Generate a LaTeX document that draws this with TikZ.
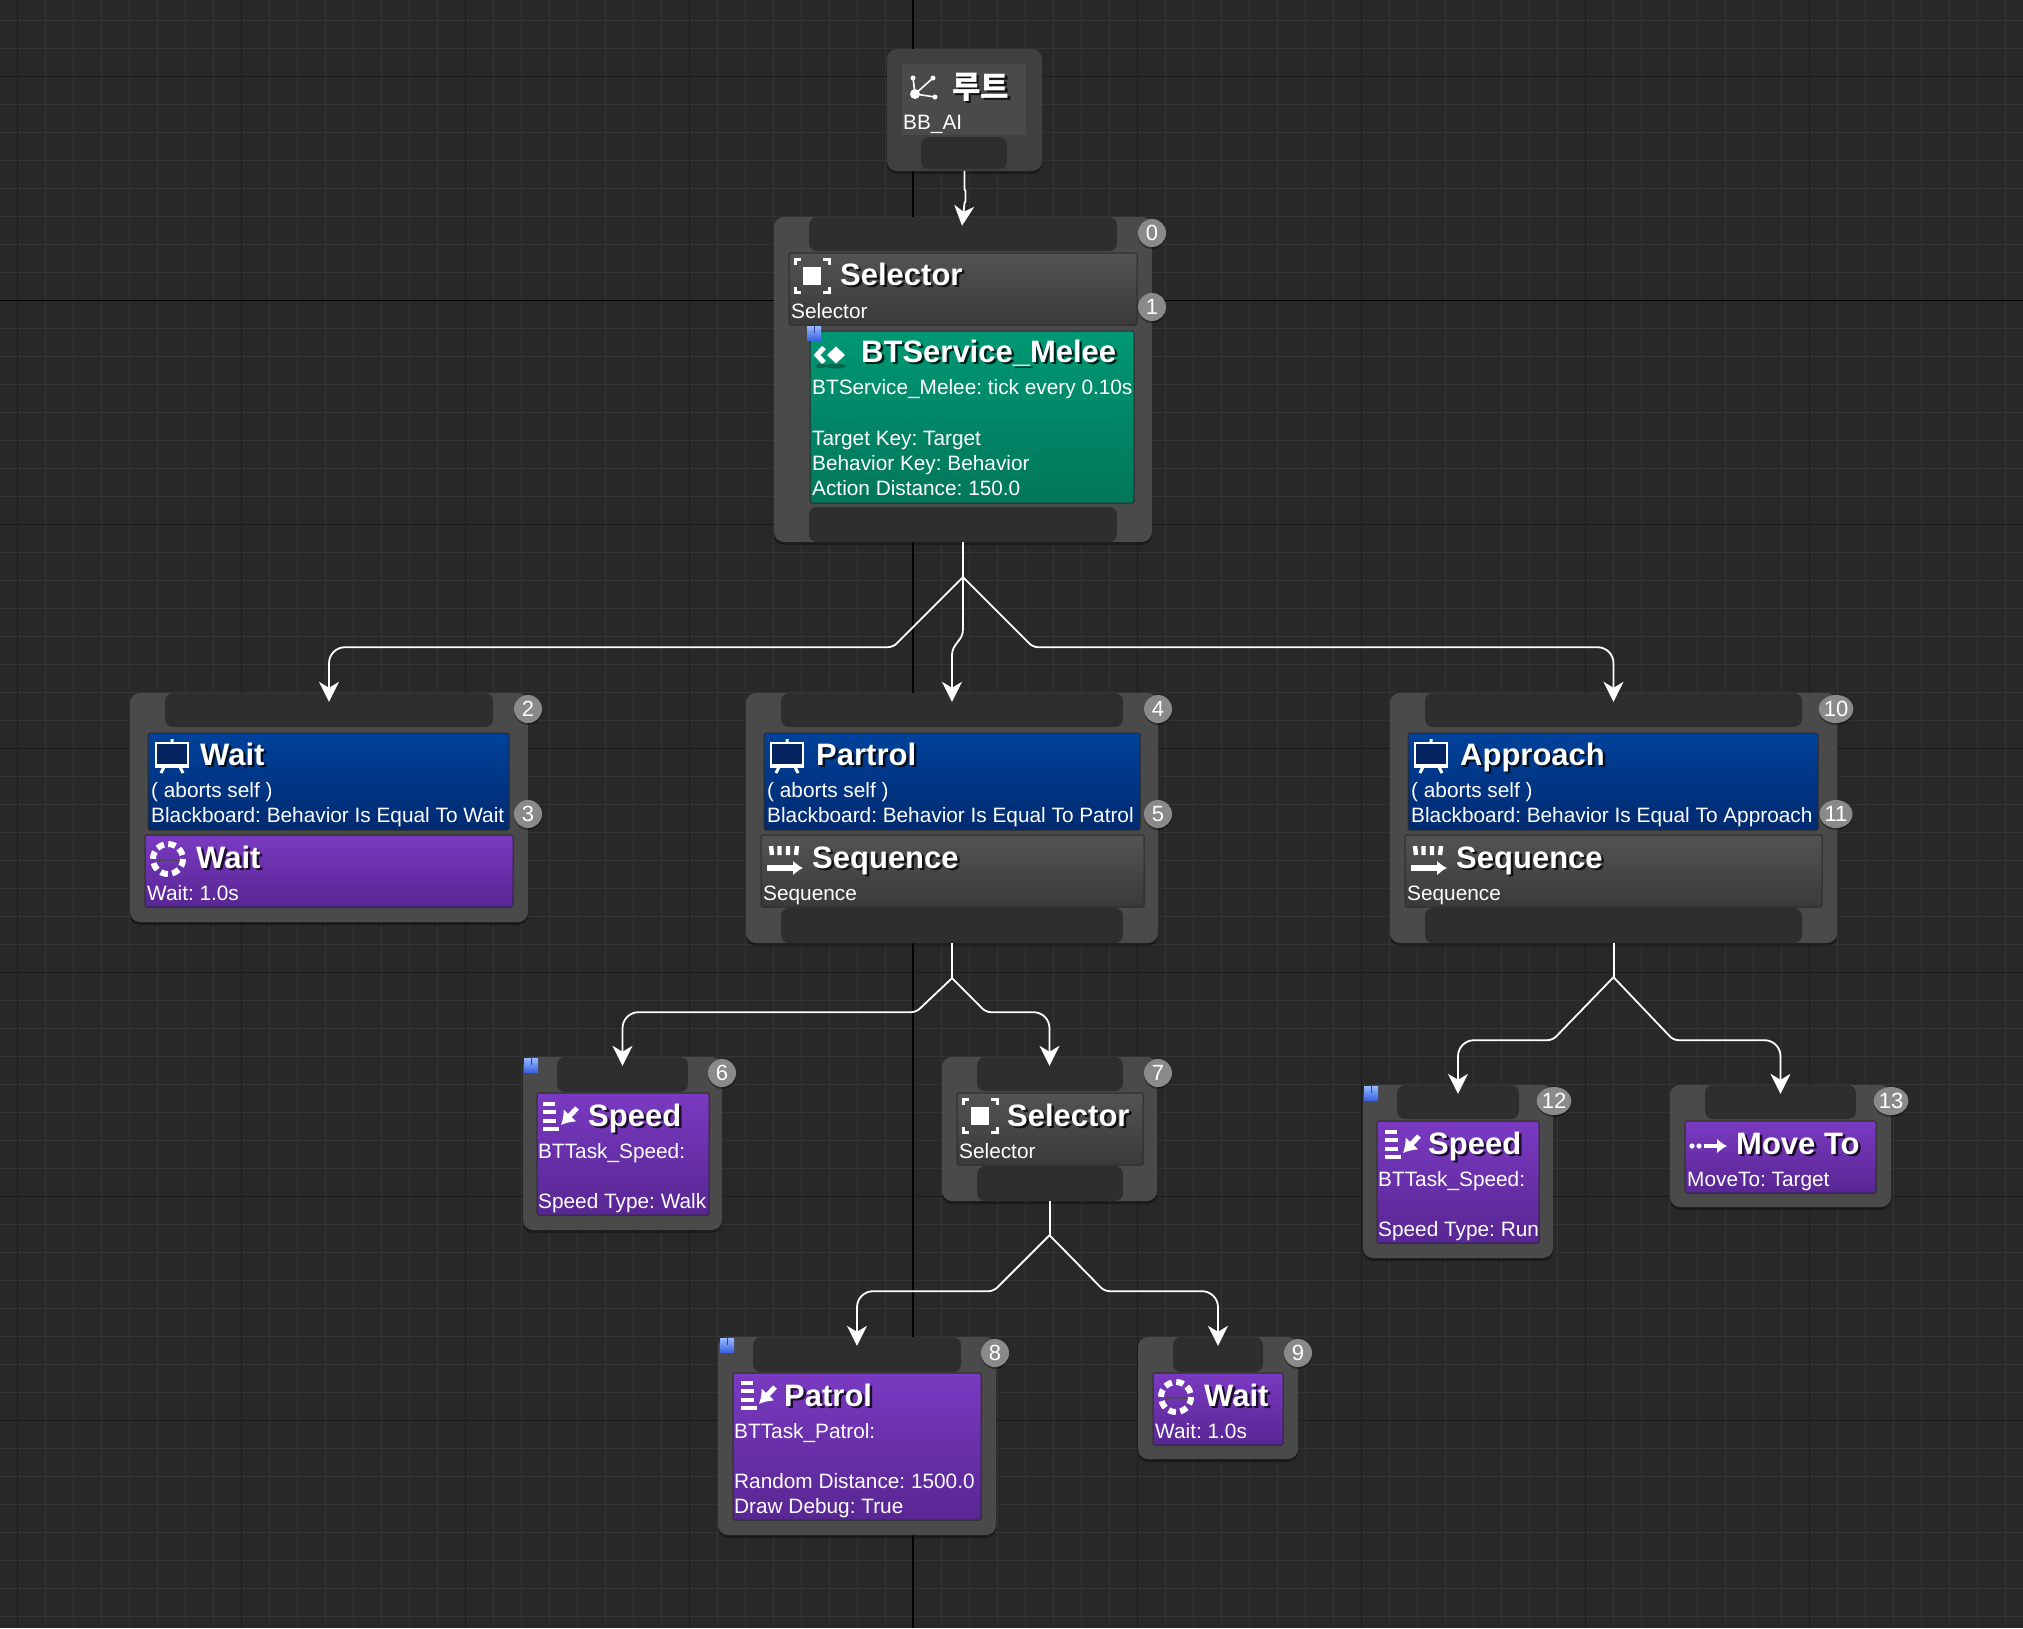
\documentclass[tikz,border=0pt]{standalone}
\usepackage{fontspec}
\setmainfont{Liberation Sans}
\newfontfamily\krfont{Noto Sans CJK KR}
\usetikzlibrary{arrows.meta,shapes.geometric}

\definecolor{bgcol}{HTML}{282828}
\definecolor{finecol}{HTML}{343434}
\definecolor{majorcol}{HTML}{1C1C1C}
\definecolor{panelcol}{HTML}{4A4A4A}
\definecolor{rootcol}{HTML}{404040}
\definecolor{pincol}{HTML}{2E2E2E}
\definecolor{edgecol}{HTML}{2A2A2A}
\definecolor{badgecol}{HTML}{8A8A8A}

\tikzset{
  panel/.style={rectangle,draw=none,fill=panelcol,rounded corners=10pt,inner sep=0pt,
    preaction={fill=black,fill opacity=.35,transform canvas={yshift=-3pt}}},
  rootpanel/.style={panel,fill=rootcol},
  rootinner/.style={rectangle,fill=white!5!rootcol,inner sep=0pt},
  pinbox/.style={rectangle,fill=pincol,rounded corners=8pt,inner sep=0pt},
  greybox/.style={rectangle,draw=edgecol,line width=1pt,top color=white!5!panelcol,bottom color=black!22!panelcol,rounded corners=1.5pt,inner sep=0pt},
  bluebox/.style={greybox,top color={rgb,255:red,0;green,66;blue,155},bottom color={rgb,255:red,0;green,42;blue,112}},
  purplebox/.style={greybox,top color={rgb,255:red,122;green,58;blue,194},bottom color={rgb,255:red,88;green,38;blue,146}},
  greenbox/.style={greybox,top color={rgb,255:red,0;green,152;blue,116},bottom color={rgb,255:red,0;green,118;blue,90}},
  titletext/.style={font=\fontsize{31}{38}\selectfont\bfseries,text=white!96,anchor=base west,inner sep=0pt,xshift=-1pt},
  subtext/.style={font=\fontsize{20.8}{25}\selectfont,text=white!78,anchor=base west,inner sep=0pt,xshift=-1pt},
  badge/.style={circle,fill=badgecol,minimum size=28pt,inner sep=0pt,text=white!85,
    font=\fontsize{22}{24}\selectfont,
    preaction={fill=black,fill opacity=.35,transform canvas={yshift=-2pt}}},
  widebadge/.style={badge,ellipse,minimum width=33pt,minimum height=28pt},
  markbox/.style={rectangle,top color={rgb,255:red,150;green,185;blue,255},bottom color={rgb,255:red,60;green,100;blue,225},minimum size=14pt,inner sep=0pt},
  link/.style={draw=white!92,line width=1.8pt,-{Stealth[length=20pt,width=20pt,inset=6pt]},shorten >=-9pt},
  branch/.style={draw=white!92,line width=2pt},
  % icons
  iconline/.style={draw=white!90,fill=none},
  rooticon/.pic={
    \fill[white] (-7,7) circle (5) (-9,-9) circle (2.5) (11,-9) circle (2.5) (13,10) circle (2.5);
    \draw[white!90,line width=1.6pt] (-9,-9) -- (-7,7) -- (11,-9) (-7,7) -- (13,10);
  },
  selicon/.pic={
    \fill[white] (-9,-9) rectangle (9,9);
    \draw[iconline,line width=3pt] (-17,-11) -- (-17,-16.5) -- (-11,-16.5) (11,-16.5) -- (17,-16.5) -- (17,-11)
      (-17,11) -- (-17,16.5) -- (-11,16.5) (11,16.5) -- (17,16.5) -- (17,11);
  },
  boardicon/.pic={
    \draw[draw=white!85,fill={rgb,255:red,5;green,35;blue,95},line width=2.6pt] (-16,-13) rectangle (16,9);
    \draw[iconline,line width=3pt] (0,-13) -- (0,-17) (-7,9) -- (-11,17) (7,9) -- (11,17);
    \draw[iconline,line width=2.6pt] (-17,11) -- (17,11);
  },
  ringicon/.pic={
    \draw[draw=white!90,line width=6pt,dash pattern=on 7.5pt off 4.3pt] (0,0) circle (15);
    \draw[draw=black!70,line width=1.5pt] (-11,1) -- (-2,1) (2,1) -- (11,1);
  },
  seqicon/.pic={
    \draw[iconline,line width=4.4pt] (-13,-13) -- (-12,-4) (-4.5,-13) -- (-4.5,-4) (4,-13) -- (4,-4) (13,-13) -- (12,-4);
    \draw[draw=white!95,line width=5.5pt,-{Latex[length=10pt,width=15pt]}] (-17,9) -- (19,9);
  },
  taskicon/.pic={
    \draw[iconline,line width=3.6pt] (-15,-13) -- (-3,-13) (-15,-5) -- (-2,-5) (-15,4) -- (-2,4) (-15,12) -- (1,12);
    \draw[draw=white!95,line width=5pt,-{Latex[length=13pt,width=18pt]}] (19,-9) -- (3,8);
  },
  moveicon/.pic={
    \fill[white!92] (-16,0) circle (2.6) (-9,0) circle (2.6);
    \draw[draw=white!95,line width=4.6pt,-{Latex[length=10pt,width=15pt]}] (-4,0) -- (19,0);
  },
  serviceicon/.pic={
    \fill[black,fill opacity=.3] (16,11) ellipse (10 and 2.5) (1,11) ellipse (6 and 2);
    \fill[white] (7,0) -- (16,-8.5) -- (25,0) -- (16,8.5) -- cycle;
    \draw[draw=white,line width=5pt] (4,-7.5) -- (-3,0) -- (4,7.5);
  }
}

% box given by its two corners
\newcommand{\boxnode}[6]{\node[#1,minimum width={(#5-#3)*1pt},minimum height={(#6-#4)*1pt}] (#2) at ({(#3+#5)/2},{(#4+#6)/2}) {};}
% bold title with its dark copy under it
\newcommand{\boxtitle}[4]{%
  \node[titletext,text=black,text opacity=.75] (#1s) at ({#2+2.5},{#3+2.5}) {#4};
  \node[titletext] (#1) at (#2,#3) {#4};}
% small blue marker
\newcommand{\marknode}[3]{\node[markbox] (#1) at (#2,#3) {};
  \draw[draw={rgb,255:red,40;green,70;blue,170},line width=1pt] (#1.north) -- (#1.center);}

\begin{document}
\frenchspacing
\begin{tikzpicture}[x=1pt,y=-1pt]
\useasboundingbox (0,0) rectangle (2023,1628);

% Grid
\fill[bgcol] (0,0) rectangle (2023,1628);
\foreach \x in {17.3,45.3,...,2023} \draw[finecol,line width=1pt] (\x,0) -- (\x,1628);
\foreach \y in {20.5,48.5,...,1628} \draw[finecol,line width=1pt] (0,\y) -- (2023,\y);
\foreach \x in {17.3,241.3,465.3,689.3,1137.3,1361.3,1585.3,1809.3} \draw[majorcol,line width=1pt] (\x,0) -- (\x,1628);
\foreach \y in {76.5,524.5,748.5,972.5,1196.5,1420.5} \draw[majorcol,line width=1pt] (0,\y) -- (2023,\y);
\draw[black,line width=1.2pt] (913,0) -- (913,1628);
\draw[black,line width=1.2pt] (0,300.5) -- (2023,300.5);

% Root
\boxnode{rootpanel}{nRoot}{887}{49}{1042}{171}
\boxnode{rootinner}{nRootIn}{902}{64}{1026}{135}
\boxnode{pinbox}{nRootPin}{921}{137}{1007}{169}
\pic at (922,87) {rooticon};
\node[titletext,text=black,text opacity=.75,font=\krfont\fontsize{31}{36}\selectfont\bfseries] (tRoots) at (955.5,100.5) {루트};
\node[titletext,font=\krfont\fontsize{31}{36}\selectfont\bfseries] (tRoot) at (953,98) {루트};
\node[subtext] (sRoot) at (904,129) {BB\_AI};

% Selector 0
\boxnode{panel}{nSelA}{774}{217}{1152}{542}
\boxnode{pinbox}{nSelATop}{809}{217}{1117}{251}
\boxnode{pinbox}{nSelABot}{809}{507}{1117}{542}
\boxnode{greybox}{nSelAHead}{789}{253}{1137}{325}
\pic at (812,276) {selicon};
\boxtitle{tSelA}{841}{285}{Selector}
\node[subtext] (sSelA) at (792,318) {Selector};
\boxnode{greenbox}{nMelee}{810}{331}{1134}{503}
\marknode{mMelee}{814}{333}
\pic at (820,355) {serviceicon};
\boxtitle{tMelee}{862}{362}{BTService\_Melee}
\node[subtext] (sMeleeA) at (813,394) {BTService\_Melee: tick every 0.10s};
\node[subtext] (sMeleeB) at (813,445) {Target Key: Target};
\node[subtext] (sMeleeC) at (813,470) {Behavior Key: Behavior};
\node[subtext] (sMeleeD) at (813,495) {Action Distance: 150.0};
\node[badge] (b0) at (1152,233) {0};
\node[badge] (b1) at (1152,307) {1};

% Wait 2
\boxnode{panel}{nWaitA}{130}{693}{528}{922}
\boxnode{pinbox}{nWaitAPin}{165}{693}{493}{727}
\boxnode{bluebox}{nWaitABlue}{148}{733}{509}{830}
\pic at (172,756) {boardicon};
\boxtitle{tWaitA}{201}{765}{Wait}
\node[subtext] (sWaitA) at (152,797) {( aborts self )};
\node[subtext] (sWaitB) at (152,822) {Blackboard: Behavior Is Equal To Wait};
\boxnode{purplebox}{nWaitATask}{145}{835}{513}{907}
\pic at (168,859) {ringicon};
\boxtitle{tWaitB}{197}{868}{Wait}
\node[subtext] (sWaitC) at (148,900) {Wait: 1.0s};
\node[badge] (b2) at (528,709) {2};
\node[badge] (b3) at (528,814) {3};

% Partrol 4
\boxnode{panel}{nPartrol}{746}{693}{1158}{943}
\boxnode{pinbox}{nPartrolTop}{781}{693}{1123}{727}
\boxnode{pinbox}{nPartrolBot}{781}{908}{1123}{943}
\boxnode{bluebox}{nPartrolBlue}{764}{733}{1140}{830}
\pic at (787,756) {boardicon};
\boxtitle{tPartrol}{817}{765}{Partrol}
\node[subtext] (sPartrolA) at (768,797) {( aborts self )};
\node[subtext] (sPartrolB) at (768,822) {Blackboard: Behavior Is Equal To Patrol};
\boxnode{greybox}{nSeqA}{761}{835}{1144}{907}
\pic at (784,859) {seqicon};
\boxtitle{tSeqA}{813}{868}{Sequence}
\node[subtext] (sSeqA) at (764,900) {Sequence};
\node[badge] (b4) at (1158,709) {4};
\node[badge] (b5) at (1158,814) {5};

% Approach 10
\boxnode{panel}{nApproach}{1390}{693}{1837}{943}
\boxnode{pinbox}{nApproachTop}{1425}{693}{1802}{727}
\boxnode{pinbox}{nApproachBot}{1425}{908}{1802}{943}
\boxnode{bluebox}{nApproachBlue}{1408}{733}{1818}{830}
\pic at (1431,756) {boardicon};
\boxtitle{tApproach}{1461}{765}{Approach}
\node[subtext] (sApproachA) at (1412,797) {( aborts self )};
\node[subtext] (sApproachB) at (1412,822) {Blackboard: Behavior Is Equal To Approach};
\boxnode{greybox}{nSeqB}{1405}{835}{1822}{907}
\pic at (1428,859) {seqicon};
\boxtitle{tSeqB}{1457}{868}{Sequence}
\node[subtext] (sSeqB) at (1408,900) {Sequence};
\node[widebadge] (b10) at (1836,709) {10};
\node[widebadge] (b11) at (1836,814) {11};

% Speed 6
\boxnode{panel}{nSpeedA}{523}{1057}{722}{1230}
\boxnode{pinbox}{nSpeedAPin}{557}{1057}{688}{1092}
\boxnode{purplebox}{nSpeedABox}{537}{1093}{709}{1215}
\marknode{mSpeedA}{531}{1065}
\pic at (558,1117) {taskicon};
\boxtitle{tSpeedA}{589}{1126}{Speed}
\node[subtext] (sSpeedA) at (539,1158) {BTTask\_Speed:};
\node[subtext] (sSpeedB) at (539,1208) {Speed Type: Walk};
\node[badge] (b6) at (722,1073) {6};

% Selector 7
\boxnode{panel}{nSelB}{942}{1057}{1157}{1201}
\boxnode{pinbox}{nSelBTop}{977}{1057}{1123}{1091}
\boxnode{pinbox}{nSelBBot}{977}{1166}{1123}{1201}
\boxnode{greybox}{nSelBHead}{957}{1093}{1143}{1165}
\pic at (980,1116) {selicon};
\boxtitle{tSelB}{1008}{1126}{Selector}
\node[subtext] (sSelB) at (960,1158) {Selector};
\node[badge] (b7) at (1158,1073) {7};

% Patrol 8
\boxnode{panel}{nPatrol}{718}{1337}{996}{1535}
\boxnode{pinbox}{nPatrolPin}{753}{1337}{961}{1372}
\boxnode{purplebox}{nPatrolBox}{733}{1373}{981}{1520}
\marknode{mPatrol}{727}{1345}
\pic at (756,1396) {taskicon};
\boxtitle{tPatrol}{785}{1406}{Patrol}
\node[subtext] (sPatrolA) at (735,1438) {BTTask\_Patrol:};
\node[subtext] (sPatrolB) at (735,1488) {Random Distance: 1500.0};
\node[subtext] (sPatrolC) at (735,1513) {Draw Debug: True};
\node[badge] (b8) at (995,1353) {8};

% Wait 9
\boxnode{panel}{nWaitB}{1138}{1337}{1298}{1459}
\boxnode{pinbox}{nWaitBPin}{1173}{1337}{1263}{1372}
\boxnode{purplebox}{nWaitBBox}{1153}{1373}{1283}{1445}
\pic at (1176,1397) {ringicon};
\boxtitle{tWaitC}{1205}{1406}{Wait}
\node[subtext] (sWaitD) at (1156,1438) {Wait: 1.0s};
\node[badge] (b9) at (1298,1353) {9};

% Speed 12
\boxnode{panel}{nSpeedB}{1363}{1085}{1553}{1258}
\boxnode{pinbox}{nSpeedBPin}{1397}{1085}{1519}{1119}
\boxnode{purplebox}{nSpeedBBox}{1377}{1121}{1539}{1243}
\marknode{mSpeedB}{1371}{1093}
\pic at (1400,1145) {taskicon};
\boxtitle{tSpeedB}{1429}{1154}{Speed}
\node[subtext] (sSpeedC) at (1379,1186) {BTTask\_Speed:};
\node[subtext] (sSpeedD) at (1379,1236) {Speed Type: Run};
\node[widebadge] (b12) at (1554,1101) {12};

% Move To 13
\boxnode{panel}{nMove}{1670}{1085}{1891}{1207}
\boxnode{pinbox}{nMovePin}{1705}{1085}{1856}{1119}
\boxnode{purplebox}{nMoveBox}{1685}{1121}{1876}{1193}
\pic at (1708,1146) {moveicon};
\boxtitle{tMove}{1737}{1154}{Move To}
\node[subtext] (sMove) at (1688,1186) {MoveTo: Target};
\node[widebadge] (b13) at (1891,1101) {13};

% Links
\draw[link] (nRoot.south) -- ++(0,18) -- ++(1,2) -- ++(0,10) -- ++(-1,2) -- (nSelA.north);

\draw[branch] (nSelA.south) -- ++(0,35) coordinate (jSelA);
\draw[link,rounded corners=5pt] (jSelA) -- ++(-70,70) [rounded corners=16pt] -| (nWaitA.north);
\draw[link] (jSelA) -- ++(0,52) .. controls +(0,12) and +(0,-12) .. ++(-11,26) -- (nPartrol.north);
\draw[link,rounded corners=5pt] (jSelA) -- ++(70,70) [rounded corners=16pt] -| (nApproach.north);

\draw[branch] (nPartrol.south) -- ++(0,35) coordinate (jPartrol);
\draw[link,rounded corners=5pt] (jPartrol) -- ++(-36,34) [rounded corners=16pt] -| (nSpeedA.north);
\draw[link,rounded corners=5pt] (jPartrol) -- ++(34,34) [rounded corners=16pt] -| (nSelB.north);

\draw[branch] (nApproach.south) -- ++(0,34) coordinate (jApproach);
\draw[link,rounded corners=5pt] (jApproach) -- ++(-61,63) [rounded corners=16pt] -| (nSpeedB.north);
\draw[link,rounded corners=5pt] (jApproach) -- ++(60,63) [rounded corners=16pt] -| (nMove.north);

\draw[branch] (nSelB.south) -- ++(0,34) coordinate (jSelB);
\draw[link,rounded corners=5pt] (jSelB) -- ++(-56,56) [rounded corners=16pt] -| (nPatrol.north);
\draw[link,rounded corners=5pt] (jSelB) -- ++(55,56) [rounded corners=16pt] -| (nWaitB.north);

\end{tikzpicture}
\end{document}
